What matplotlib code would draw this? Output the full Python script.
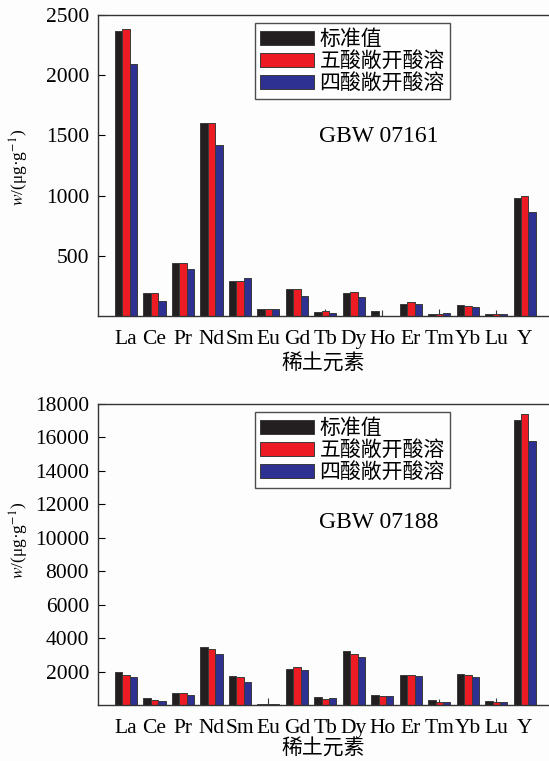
import matplotlib
matplotlib.use("Agg")
import matplotlib.pyplot as plt
import numpy as np

plt.rcParams["mathtext.fontset"] = "stix"

elements = ["La", "Ce", "Pr", "Nd", "Sm", "Eu", "Gd", "Tb", "Dy", "Ho", "Er", "Tm", "Yb", "Lu", "Y"]
series_names = ["标准值", "五酸敞开酸溶", "四酸敞开酸溶"]

# GBW 07161
std_161 = [2369, 189, 444, 1600, 294, 58, 222, 33, 189, 39, 100, 17, 94, 17, 982]
five_161 = [2383, 194, 444, 1600, 289, 56, 222, 42, 200, 0, 114, 19, 86, 14, 994]
four_161 = [2097, 122, 394, 1417, 314, 58, 169, 22, 161, 0, 100, 22, 78, 17, 864]
five_err_161 = [0, 0, 0, 0, 0, 0, 0, 20, 0, 50, 0, 35, 0, 35, 0]

# GBW 07188
std_188 = [1980, 420, 700, 3440, 1720, 30, 2160, 480, 3200, 580, 1800, 280, 1880, 220, 17050]
five_188 = [1820, 300, 700, 3340, 1660, 30, 2280, 380, 3060, 560, 1800, 200, 1800, 160, 17420]
four_188 = [1680, 260, 620, 3060, 1380, 30, 2080, 400, 2880, 520, 1740, 180, 1660, 160, 15760]
five_err_188 = [0, 0, 0, 0, 0, 360, 0, 0, 0, 0, 0, 160, 0, 240, 0]

yticks_161 = [500, 1000, 1500, 2000, 2500]
yticks_188 = [2000, 4000, 6000, 8000, 10000, 12000, 14000, 16000, 18000]

colors = ["#231f20", "#ed1c24", "#2e3192"]
serif = ["Liberation Serif", "DejaVu Serif"]
cjk = ["Noto Sans CJK SC", "DejaVu Sans"]

W, H = 549, 761
fig = plt.figure(figsize=(W / 100, H / 100), dpi=100)
fig.patch.set_facecolor("#fdfdfd")

AX_L, AX_R = 98, 549

def px_axes(top, bottom):
    return fig.add_axes([AX_L / W, 1 - bottom / H, (AX_R - AX_L) / W, (bottom - top) / H])

def draw(ax, data, err, ylim, yticks, label, top, bottom, leg_top, txt_y, ylab_y, xlpad):
    hpx = bottom - top
    wpx = AX_R - AX_L
    x = np.arange(len(elements))
    w = 0.26
    for i, (vals, c, name) in enumerate(zip(data, colors, series_names)):
        ax.bar(x + (i - 1) * w, vals, width=w, color=c, edgecolor="#3a3a3a",
               linewidth=0.7, label=name, zorder=2)
    e = np.array(err)
    m = e > 0
    ax.errorbar(x[m], np.array(data[1])[m], yerr=[np.zeros(m.sum()), e[m]], fmt="none",
                ecolor="#3a3a3a", elinewidth=0.8, capsize=0, zorder=1.5)
    ax.set_xlim(-0.98, 14.85)
    ax.set_ylim(*ylim)
    ax.set_yticks(yticks)
    ax.set_yticklabels([str(v) for v in yticks], fontfamily=serif, fontsize=15.5)
    ax.set_xticks(x)
    ax.set_xticklabels(elements, fontfamily=serif, fontsize=15.5)
    ax.tick_params(axis="y", direction="in", length=5, width=0.8, pad=6.5)
    ax.tick_params(axis="x", length=0, pad=10)
    ax.spines["right"].set_visible(False)
    for s in ["left", "top", "bottom"]:
        ax.spines[s].set_linewidth(1.0)
        ax.spines[s].set_color("#333333")
    ax.set_facecolor("#fdfdfd")
    ax.set_xlabel("稀土元素", fontfamily=cjk, fontsize=15, labelpad=xlpad)
    ax.set_ylabel(r"$w$/(μg·g$^{-1}$)", fontfamily=serif, fontsize=12.5)
    ax.yaxis.set_label_coords((31 - AX_L) / wpx, (bottom - ylab_y) / hpx)
    leg = ax.legend(loc="upper left",
                    bbox_to_anchor=((255 - AX_L) / wpx, (bottom - leg_top) / hpx),
                    prop={"family": cjk, "size": 15}, frameon=True, fancybox=False,
                    edgecolor="#222222", handlelength=2.6, handleheight=0.68,
                    handletextpad=0.25, labelspacing=0.0, borderpad=0.25,
                    borderaxespad=0)
    leg.get_frame().set_linewidth(1.0)
    ax.text((379 - AX_L) / wpx, (bottom - txt_y) / hpx, label, transform=ax.transAxes,
            fontfamily=serif, fontsize=17, ha="center", va="center")

ax1 = px_axes(15, 316)
ax2 = px_axes(404, 705)

draw(ax1, [std_161, five_161, four_161], five_err_161, (0, 2500), yticks_161, "GBW 07161",
     15, 316, 23, 137, 167, 3)
draw(ax2, [std_188, five_188, four_188], five_err_188, (0, 18000), yticks_188, "GBW 07188",
     404, 705, 412, 522, 540, 0)

fig.savefig("out.png", dpi=100, facecolor=fig.get_facecolor())
